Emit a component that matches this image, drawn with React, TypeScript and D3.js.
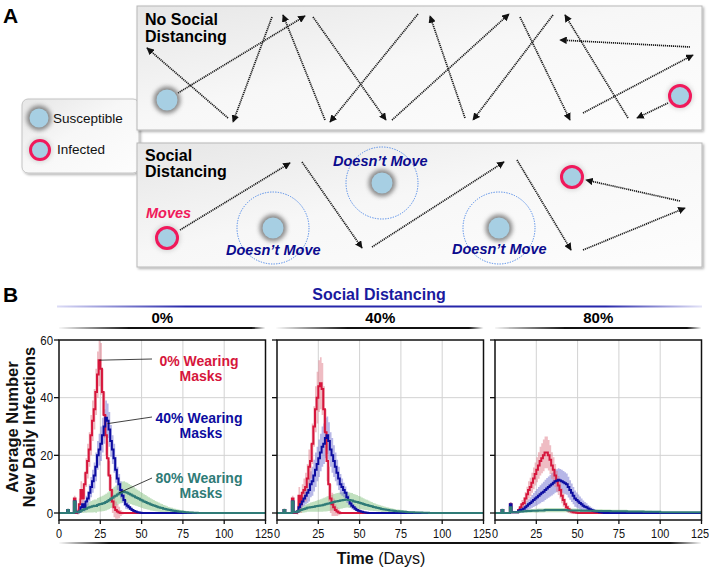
import * as d3 from 'd3'

const FONT = 'Liberation Sans, Arial, Helvetica, sans-serif'

// ---- panel B data (daily values, index = day; missing days are 0) ----
const DAY_TICKS = [0, 25, 50, 75, 100, 125]
const Y_TICKS = [0, 20, 40, 60]
const SD_LABELS = ['0%', '40%', '80%']
const MASK_LINE_COLORS = ['#d6163c', '#0c0ca0', '#2f7b77']
const MASK_BAND_COLORS = ['#e07a88', '#6f6fd0', '#83c27f']
const ANNOT_LINE1 = ['0% Wearing', '40% Wearing', '80% Wearing']
const ANNOT_DAY = [25, 30, 37]
const ANNOT_VAL = [53, 31, 7]

const sd0Mask0Mean = [0,0,0,0,0,1,0,0,0,5,0,0.5,3,8,5,10,14,18,22,27,32,36,42,48,53,50,42,34,27,19,13,8,4,2,1,0.5,0.2]
const sd0Mask0Sd = [0,0,0,0,0,0.5,0,0,0,1,0.3,1,2,3,3,4,5,6,6,7,7,7,8,8,9,9,8,8,7,6,5,4.5,4,3.5,3,2.5,2,1,0.5]
const sd0Mask40Mean = [0,0,0,0,0,1,0,0,0,4,0.3,0.3,0.5,2,3,2,4,5,7,9,11,13,16,20,22,24,27,30,33,32,29,25,22,19,15,12,10,8,6,4.5,3,2.5,2,1.5,1,0.7,0.5,0.3,0.2,0.1]
const sd0Mask40Sd = [0,0,0,0,0,0.5,0,0,0,1,0.3,0.3,0.5,1,1.5,1.5,2,2.5,3,3.5,4,4.5,5,5,5.5,6,6,6,6,6,6,5.5,5,5,4.5,4,3.5,3,2.5,2,1.5,1.2,1,0.8,0.6,0.5,0.4,0.3,0.2,0.1]
const sd0Mask80Mean = [0,0,0,0,0,1,0,0,0,4,0.3,0.3,0.5,0.8,1,1.3,1.5,1.8,2,2.2,2.3,2.5,2.4,2.8,3,3.1,3.3,3.5,3.8,4.1,4.5,4.9,5.3,5.7,6,6.4,6.8,7,7.3,7.4,7.2,7,6.7,6.4,6.1,5.8,5.5,5.2,4.9,4.6,4.3,4,3.8,3.5,3.3,3,2.8,2.6,2.4,2.2,2,1.8,1.7,1.5,1.4,1.2,1.1,1,0.9,0.8,0.7,0.6,0.5,0.45,0.4,0.35,0.3,0.25,0.2,0.2,0.15,0.1,0.1,0.05]
const sd0Mask80Sd = [0,0,0,0,0,0.5,0,0,0,1,0.3,0.3,0.5,0.8,1,1.2,1.4,1.6,1.8,2,2.1,2.2,2.3,2.4,2.5,2.6,2.7,2.8,2.9,3,3.1,3.2,3.3,3.4,3.5,3.5,3.6,3.6,3.6,3.6,3.5,3.5,3.4,3.3,3.2,3.1,3,2.9,2.8,2.7,2.6,2.5,2.4,2.3,2.2,2.1,2,1.9,1.8,1.7,1.6,1.5,1.4,1.3,1.2,1.1,1,0.9,0.9,0.8,0.8,0.7,0.7,0.6,0.6,0.5,0.5,0.4,0.4,0.3,0.3,0.2,0.2,0.1]

const sd40Mask0Mean = [0,0,0,0,1,0,0,0,0,5,0,0,0.5,6,3,7,8,9,12,16,18,24,30,36,40,44,45,43,36,28,18,10,5,3,2,1,0.5,0.2]
const sd40Mask0Sd = [0,0,0,0,0.5,0,0,0,0,1,0.3,0.3,1,3,3,3,4,5,5,6,6,7,7,8,9,9,9,9,8,8,7,6,5,4,3,2,1.5,1,0.5]
const sd40Mask40Mean = [0,0,0,0,1,0,0,0,0,4,0.3,0.3,0.5,2,3,4,5,6,7,8,10,11,13,15,17,19,21,23,24,26,27,25,22,20,18,16,14,12,10,9,8,7,5.5,4.5,3.3,2.5,2,1.5,1,0.8,0.6,0.4,0.3,0.2,0.1]
const sd40Mask40Sd = [0,0,0,0,0.5,0,0,0,0,1,0.3,0.3,0.5,1,1.5,2,2.5,3,3.5,4,4.5,5,5.5,6,6,6.5,6.5,7,7,7,6.5,6.5,6,6,5.5,5,4.5,4,3.5,3,2.5,2.2,2,1.8,1.5,1.2,1,0.8,0.6,0.5,0.4,0.3,0.2,0.1]
const sd40Mask80Mean = [0,0,0,0,1,0,0,0,0,4,0.3,0.3,0.5,0.8,1,1.2,1.4,1.6,1.8,1.9,2,2.1,2.2,2.3,2.4,2.5,2.6,2.7,2.9,3,3.2,3.3,3.5,3.6,3.8,4,4.1,4.2,4.3,4.4,4.5,4.6,4.6,4.5,4.4,4.3,4.1,3.9,3.8,3.6,3.5,3.3,3.1,2.9,2.8,2.6,2.4,2.3,2.1,2,1.8,1.7,1.6,1.4,1.3,1.2,1.1,1,0.9,0.85,0.8,0.7,0.65,0.6,0.55,0.5,0.45,0.4,0.35,0.3,0.3,0.25,0.25,0.2,0.2,0.2,0.15,0.15,0.1,0.1,0.1,0.05]
const sd40Mask80Sd = [0,0,0,0,0.5,0,0,0,0,1,0.3,0.3,0.5,0.8,1,1.1,1.2,1.3,1.4,1.5,1.6,1.7,1.8,1.9,2,2.1,2.2,2.3,2.4,2.5,2.6,2.6,2.7,2.7,2.8,2.8,2.8,2.8,2.8,2.8,2.8,2.8,2.7,2.7,2.6,2.6,2.5,2.5,2.4,2.3,2.2,2.1,2,1.9,1.8,1.7,1.6,1.5,1.4,1.3,1.2,1.2,1.1,1.1,1,1,0.9,0.9,0.8,0.8,0.7,0.7,0.6,0.6,0.6,0.5,0.5,0.5,0.4,0.4,0.4,0.3,0.3,0.3,0.3,0.2,0.2,0.2,0.2,0.1,0.1,0.1]

const sd80Mask0Mean = [0,0,0,0,1,0,0,0,0,3,0.3,0.3,0.3,0.3,1,2,3,3.5,5,6.5,8,9,10.5,12,13.5,15,16.5,18,19,20,21,21,20,18.5,16.5,15,13,11,9.5,8,6,4.5,3,2,1.3,0.8,0.5,0.3,0.2,0.1]
const sd80Mask0Sd = [0,0,0,0,0.5,0,0,0,0,0.8,0.3,0.3,0.3,0.3,0.8,1.2,1.5,2,2.3,2.6,3,3.2,3.5,3.8,4,4.3,4.6,5,5.2,5.5,5.5,5.5,5.3,5,4.6,4.3,4,3.6,3.3,3,2.6,2.3,2,1.6,1.3,1,0.8,0.6,0.4,0.2]
const sd80Mask40Mean = [0,0,0,0,1,0,0,0,0,3,0.3,0.3,0.3,0.3,0.8,1,1.2,1.5,2,2.5,3,3.5,4,4.5,5,5.5,6,6.5,7,7.4,8,8.5,9,9.5,10,10.5,11,11.2,11.5,11.3,11,10.7,10.3,10,9,8,7,6,5,4.5,4,3.5,3,2.5,2.2,2,1.6,1.3,1,0.8,0.6,0.5,0.4,0.3,0.2,0.1]
const sd80Mask40Sd = [0,0,0,0,0.5,0,0,0,0,0.8,0.3,0.3,0.3,0.3,0.6,0.8,1,1.2,1.4,1.6,1.8,2,2.2,2.4,2.6,2.8,3,3.1,3.2,3.4,3.5,3.6,3.7,3.8,3.9,4,4,4,4,4,4,3.9,3.8,3.7,3.6,3.4,3.2,3,2.8,2.6,2.4,2.2,2,1.8,1.6,1.4,1.2,1,0.9,0.8,0.7,0.6,0.5,0.4,0.3,0.2]
const sd80Mask80Mean = [0,0,0,0,1,0,0,0,0,2,0.3,0.3,0.3,0.3,0.4,0.5,0.5,0.6,0.6,0.7,0.7,0.7,0.8,0.8,0.8,0.8,0.9,0.9,0.9,0.9,1,1,1,1,1,1,1,1,1,1,1,1,1,1,0.9,0.9,0.9,0.9,0.9,0.9,0.9,0.9,0.8,0.8,0.8,0.8,0.8,0.8,0.8,0.8,0.7,0.7,0.7,0.7,0.7,0.7,0.7,0.7,0.7,0.7,0.6,0.6,0.6,0.6,0.6,0.6,0.6,0.6,0.6,0.6,0.5,0.5,0.5,0.5,0.5,0.5,0.5,0.5,0.5,0.5,0.4,0.4,0.4,0.4,0.4,0.4,0.4,0.4,0.4,0.4,0.3,0.3,0.3,0.3,0.3,0.3,0.3,0.3,0.3,0.3,0.3,0.3,0.3,0.3,0.3,0.3,0.3,0.3,0.3,0.3,0.3,0.3,0.3,0.3,0.3,0.3]
const sd80Mask80Sd = [0,0,0,0,0.5,0,0,0,0,0.8,0.3,0.3,0.3,0.3,0.4,0.4,0.5,0.5,0.5,0.6,0.6,0.6,0.6,0.6,0.7,0.7,0.7,0.7,0.7,0.7,0.7,0.7,0.7,0.7,0.7,0.7,0.7,0.7,0.7,0.7,0.7,0.7,0.7,0.7,0.7,0.7,0.7,0.7,0.7,0.7,0.6,0.6,0.6,0.6,0.6,0.6,0.6,0.6,0.6,0.6,0.6,0.6,0.6,0.6,0.6,0.5,0.5,0.5,0.5,0.5,0.5,0.5,0.5,0.5,0.5,0.5,0.5,0.5,0.5,0.5,0.4,0.4,0.4,0.4,0.4,0.4,0.4,0.4,0.4,0.4,0.4,0.4,0.4,0.4,0.4,0.3,0.3,0.3,0.3,0.3]

const panels = [
  { means: [sd0Mask0Mean, sd0Mask40Mean, sd0Mask80Mean], sds: [sd0Mask0Sd, sd0Mask40Sd, sd0Mask80Sd] },
  { means: [sd40Mask0Mean, sd40Mask40Mean, sd40Mask80Mean], sds: [sd40Mask0Sd, sd40Mask40Sd, sd40Mask80Sd] },
  { means: [sd80Mask0Mean, sd80Mask40Mean, sd80Mask80Mean], sds: [sd80Mask0Sd, sd80Mask40Sd, sd80Mask80Sd] },
]

// ---- panel A sketch (movement arrows: x1, y1, x2, y2) ----
const topArrows = [
  [178, 93, 305, 16], [313, 17, 386, 120], [418, 14, 330, 122], [228, 118, 147, 48],
  [272, 17, 233, 122], [325, 120, 283, 15], [392, 120, 509, 14], [553, 15, 473, 120],
  [465, 118, 430, 16], [520, 17, 570, 120], [628, 118, 565, 15], [690, 47, 560, 40],
  [583, 113, 693, 55], [668, 103, 637, 118],
]
const bottomArrows = [
  [180, 230, 290, 163], [302, 162, 362, 248], [372, 247, 504, 162],
  [517, 160, 571, 250], [583, 250, 685, 208], [680, 201, 586, 180],
]
const stillPeople = [[273, 228], [382, 183], [499, 228]]
const stillLabels = [[226, 255], [333, 166], [452, 254]]

const PLOT_LEFT = [59, 277, 495]
const PLOT_W = 206.5
const Y0 = 513
const Y60 = 340
const FRAME_BOTTOM = 520

function pad(a: number[]) {
  return d3.range(0, 126).map(d => (a[d] === undefined ? 0 : a[d]))
}

function Person({ cx, cy, infected = false, r = 10.5 }: { cx: number; cy: number; infected?: boolean; r?: number }) {
  return (
    <g>
      <circle cx={cx} cy={cy} r={r + 3} fill={infected ? '#aaa' : '#666'} opacity={infected ? 0.4 : 0.75} filter="url(#blur)" />
      <circle cx={cx} cy={cy} r={r} fill="#a7cfe3" stroke={infected ? '#f0195b' : 'none'} strokeWidth={infected ? 3 : 0} />
    </g>
  )
}

function taper(x1: number, x2: number, yy: number, h: number, a = 0.2, b = 0.9) {
  const w = x2 - x1
  return `M${x1},${yy} L${x1 + a * w},${yy - h} L${x1 + b * w},${yy - h} L${x2},${yy} L${x1 + b * w},${yy + h} L${x1 + a * w},${yy + h} Z`
}

export default function App() {
  const y = d3.scaleLinear().domain([0, 60]).range([Y0, Y60])
  const days = d3.range(0, 126)

  const arrowLine = (a: number[], i: number) => (
    <line key={i} x1={a[0]} y1={a[1]} x2={a[2]} y2={a[3]} stroke="#1a1a1a" strokeWidth={1.7}
      strokeDasharray="1.2 0.8" markerEnd="url(#arrow)" />
  )

  return (
    <svg width={709} height={568} style={{ position: 'absolute', left: 0, top: 0 }} fontFamily={FONT}>
      <defs>
        <filter id="blur" x="-50%" y="-50%" width="200%" height="200%">
          <feGaussianBlur stdDeviation={2} />
        </filter>
        <filter id="shadow" x="-5%" y="-10%" width="110%" height="125%">
          <feDropShadow dx={1.5} dy={1.5} stdDeviation={1.2} floodColor="#000" floodOpacity={0.3} />
        </filter>
        <linearGradient id="boxFill" x1="0" y1="0" x2="1" y2="1">
          <stop offset="0" stopColor="#e6e6e6" />
          <stop offset="0.45" stopColor="#f7f7f7" />
          <stop offset="1" stopColor="#fdfdfd" />
        </linearGradient>
        <linearGradient id="blueRule" gradientUnits="userSpaceOnUse" x1={57} x2={702} y1={0} y2={0}>
          <stop offset="0" stopColor="#dcdcf6" />
          <stop offset="0.2" stopColor="#2626aa" />
          <stop offset="0.85" stopColor="#2626aa" />
          <stop offset="1" stopColor="#e4e4f8" />
        </linearGradient>
        <marker id="arrow" viewBox="0 0 10 10" refX={9} refY={5} markerWidth={7.5} markerHeight={7.5}
          markerUnits="userSpaceOnUse" orient="auto">
          <path d="M0,0 L10,5 L0,10 z" fill="#111" />
        </marker>
        {PLOT_LEFT.map((l, i) => (
          <clipPath id={`clip${i}`} key={i}>
            <rect x={l} y={Y60} width={PLOT_W} height={FRAME_BOTTOM - Y60} />
          </clipPath>
        ))}
      </defs>

      {/* ---------------- Panel A ---------------- */}
      <text x={3} y={23} fontSize={21} fontWeight="bold">A</text>
      <rect x={22} y={99} width={117} height={74} rx={6} fill="url(#boxFill)" stroke="#c4c4c4" filter="url(#shadow)" />
      <Person cx={39} cy={118} r={9.5} />
      <text x={53} y={123} fontSize={13.5} fill="#111">Susceptible</text>
      <Person cx={40} cy={150} r={9.5} infected />
      <text x={57} y={154} fontSize={13.5} fill="#111">Infected</text>

      <rect x={137} y={6} width={565} height={124} fill="url(#boxFill)" stroke="#b8b8b8" filter="url(#shadow)" />
      <text x={145} y={25} fontSize={16} fontWeight="bold">No Social</text>
      <text x={145} y={41.5} fontSize={16} fontWeight="bold">Distancing</text>
      {topArrows.map(arrowLine)}
      <Person cx={167} cy={100} />
      <Person cx={680} cy={96} infected />

      <rect x={137} y={143} width={565} height={124} fill="url(#boxFill)" stroke="#b8b8b8" filter="url(#shadow)" />
      <text x={145} y={161} fontSize={16} fontWeight="bold">Social</text>
      <text x={145} y={177} fontSize={16} fontWeight="bold">Distancing</text>
      {stillPeople.map((p, i) => (
        <circle key={i} cx={p[0]} cy={p[1]} r={36} fill="none" stroke="#4a86e8" strokeWidth={1} strokeDasharray="1.3 1.3" />
      ))}
      {bottomArrows.map(arrowLine)}
      {stillPeople.map((p, i) => <Person key={i} cx={p[0]} cy={p[1]} />)}
      <Person cx={167} cy={238} infected />
      <Person cx={572} cy={177} infected />
      <text x={146} y={218} fontSize={14.5} fontWeight="bold" fontStyle="italic" fill="#f0195b">Moves</text>
      {stillLabels.map((p, i) => (
        <text key={i} x={p[0]} y={p[1]} fontSize={14.5} fontWeight="bold" fontStyle="italic" fill="#0b0b8e">Doesn’t Move</text>
      ))}

      {/* ---------------- Panel B ---------------- */}
      <text x={3} y={302} fontSize={21} fontWeight="bold">B</text>
      <text x={379} y={300} fontSize={16} fontWeight="bold" fill="#1a1a9e" textAnchor="middle">Social Distancing</text>
      <rect x={57} y={305.5} width={645} height={2} fill="url(#blueRule)" />

      {panels.map((p, pi) => {
        const x = d3.scaleLinear().domain([0, 125]).range([PLOT_LEFT[pi], PLOT_LEFT[pi] + PLOT_W])
        const line = d3.line<number>().x(d => x(d)).curve(d3.curveStepAfter)
        const area = d3.area<number>().x(d => x(d)).curve(d3.curveStepAfter)
        const cx = PLOT_LEFT[pi] + PLOT_W / 2
        return (
          <g key={pi}>
            <text x={cx} y={323} fontSize={15} fontWeight="bold" textAnchor="middle">{SD_LABELS[pi]}</text>
            <path d={taper(PLOT_LEFT[pi] - 2, PLOT_LEFT[pi] + PLOT_W, 328, 1, 0.35, 0.93)} fill="#111" />
            {/* grid */}
            {DAY_TICKS.slice(1, -1).map(t => (
              <line key={t} x1={x(t)} x2={x(t)} y1={Y60} y2={FRAME_BOTTOM} stroke="#d2d2d2" strokeWidth={1} />
            ))}
            {Y_TICKS.slice(1, -1).map(t => (
              <line key={t} x1={x(0)} x2={x(125)} y1={y(t)} y2={y(t)} stroke="#d2d2d2" strokeWidth={1} />
            ))}
            {/* bands */}
            <g clipPath={`url(#clip${pi})`}>
              {[2, 1, 0].map(k => {
                const m = pad(p.means[k])
                const s = pad(p.sds[k])
                const a = area.y0(d => y(m[d] - s[d])).y1(d => y(m[d] + s[d]))(days) || ''
                return <path key={k} d={a} fill={MASK_BAND_COLORS[k]} opacity={0.5} />
              })}
              {[0, 1, 2].map(k => {
                const m = pad(p.means[k])
                const l = line.y(d => y(m[d]))(days) || ''
                return <path key={k} d={l} fill="none" stroke={MASK_LINE_COLORS[k]} strokeWidth={2} />
              })}
            </g>
            {/* frame */}
            <rect x={x(0)} y={Y60} width={PLOT_W} height={FRAME_BOTTOM - Y60} fill="none" stroke="#111" strokeWidth={1.5} />
            {/* y ticks */}
            {Y_TICKS.map(t => (
              <g key={t}>
                <line x1={x(0) - 5} x2={x(0)} y1={y(t)} y2={y(t)} stroke="#111" strokeWidth={1.3} />
                {pi === 0 && (
                  <text transform={`translate(${x(0) - 6},${y(t)}) scale(0.88,1)`} dy="0.35em" fontSize={13}
                    textAnchor="end" fill="#111">{t}</text>
                )}
              </g>
            ))}
            {/* x ticks */}
            {DAY_TICKS.map(t => (
              <g key={t}>
                <line x1={x(t)} x2={x(t)} y1={FRAME_BOTTOM} y2={FRAME_BOTTOM + 4} stroke="#111" strokeWidth={1.3} />
                <text transform={`translate(${x(t) - (t === 125 ? 1.5 : 0)},538) scale(0.84,1)`} fontSize={13}
                  textAnchor="middle" fill="#111">{t}</text>
              </g>
            ))}
            {/* annotations on first panel */}
            {pi === 0 && ANNOT_LINE1.map((t, k) => {
              const base = [366, 423, 483][k]
              const ly = [359, 417, 478][k]
              return (
                <g key={k}>
                  <line x1={x(ANNOT_DAY[k]) - 1} y1={y(ANNOT_VAL[k])} x2={152} y2={ly} stroke="#111" strokeWidth={0.8} />
                  <text x={199} y={base} fontSize={14} fontWeight="bold" textAnchor="middle" fill={MASK_LINE_COLORS[k]}>{t}</text>
                  <text x={201} y={base + 14.5} fontSize={14} fontWeight="bold" textAnchor="middle" fill={MASK_LINE_COLORS[k]}>Masks</text>
                </g>
              )
            })}
          </g>
        )
      })}

      <path d={taper(58, 702, 543, 1.1, 0.08, 0.95)} fill="#111" />
      <text x={381} y={564} fontSize={16} textAnchor="middle" fill="#111">
        <tspan fontWeight="bold">Time</tspan> (Days)
      </text>
      <g transform="translate(18,427) rotate(-90)">
        <text fontSize={16.5} fontWeight="bold" textAnchor="middle" fill="#111">Average Number</text>
      </g>
      <g transform="translate(35,427) rotate(-90)">
        <text fontSize={16.5} fontWeight="bold" textAnchor="middle" fill="#111">New Daily Infections</text>
      </g>
    </svg>
  )
}
